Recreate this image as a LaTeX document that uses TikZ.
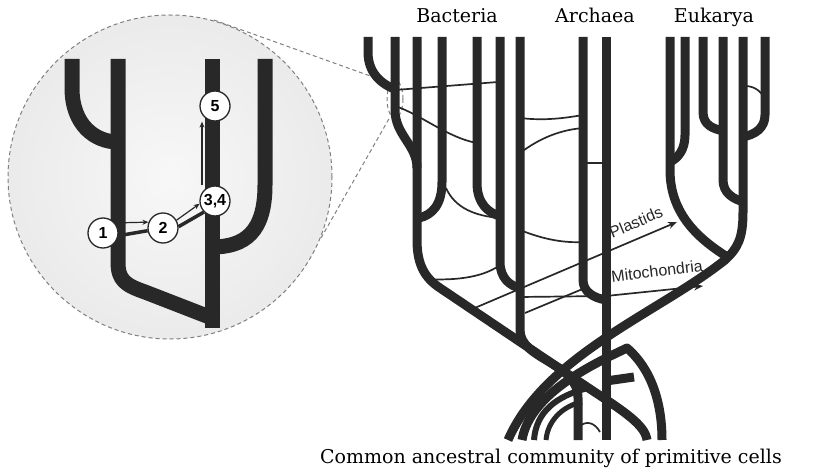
\documentclass[tikz,border=0pt]{standalone}
\usepackage{fontspec}
\setmainfont{DejaVu Serif}
\newfontfamily\lsans{Liberation Sans}
\usetikzlibrary{arrows.meta}
\definecolor{ink}{RGB}{40,40,40}
\begin{document}
\begin{tikzpicture}[x=1pt,y=-1pt,
  br/.style={draw=ink,line width=9pt,line join=round},
  thinl/.style={draw=ink,line width=1.7pt},
  ibr/.style={draw=ink,line width=15pt,line join=round},
  num/.style={circle,draw=ink,line width=1.3pt,fill=white,minimum size=30pt,inner sep=0pt,font=\lsans\bfseries\fontsize{16}{16}\selectfont},
  lab/.style={font=\fontsize{19}{20}\selectfont,text=black,anchor=base,inner sep=0pt},
  arrlab/.style={font=\lsans\fontsize{16}{17}\selectfont,text=ink,inner sep=0pt},
  tipbig/.style={-{Stealth[length=9pt,width=7pt]}},
  tipsmall/.style={-{Stealth[length=6pt,width=5pt]}},
  dashl/.style={draw=black!50,line width=1pt,dash pattern=on 4pt off 3pt}
]
\useasboundingbox[fill=white] (0,0) rectangle (819,470);

% ---------- inset ----------
\shade[inner color=black!3, outer color=black!8] (170,177) circle[radius=162pt];
\draw[dashl] (170,177) circle[radius=162pt];
\coordinate (ta) at (214,20);
\coordinate (tb) at (321,238);
\coordinate (sa) at (387,82);
\coordinate (sb) at (390,117);
\draw[dashl] (ta) -- (sa);
\draw[dashl] (tb) -- (sb);
\draw[dashl] (395,99) ellipse[x radius=8pt,y radius=19pt];

\draw[ibr] (72,59) -- (72,88) .. controls (72,125) and (95,142) .. (118,142);
\draw[ibr] (118,59) -- (118,262) .. controls (118,280) and (125,285) .. (145,292) -- (212,318);
\draw[ibr] (212,59) -- (212,328);
\draw[ibr] (265,59) -- (265,185) .. controls (265,232) and (245,247) .. (212,247);

\node[num] (n1) at (103,233) {1};
\node[num] (n2) at (163,228) {2};
\node[num] (n34) at (215,201) {3,4};
\node[num] (n5) at (215,106) {5};

\draw[ink,line width=1.2pt,tipsmall] (n1.40) -- (n2.158);
\draw[ink,line width=3.5pt] (n1.-10) -- (n2.190);
\draw[ink,line width=1.2pt,tipsmall] (n2.30) -- (n34.190);
\draw[ink,line width=3.5pt] (n2.5) -- (n34.225);
\draw[ink,line width=1.2pt,tipsmall] ([xshift=-13pt]n34.north) -- ([xshift=-13pt]n34.north |- n5.south);

% ---------- thin transfer lines ----------
\draw[thinl] (395,90) -- (498,82);
\draw[thinl] (395,106) .. controls (420,114) and (448,138) .. (477,143);
\draw[thinl] (446,188) .. controls (455,208) and (475,216) .. (500,218);
\draw[thinl] (520,118) .. controls (545,121) and (565,118) .. (583,115);
\draw[thinl] (520,153) .. controls (540,138) and (560,130) .. (583,128);
\draw[thinl] (583,163) -- (606,163);
\draw[thinl] (520,230) .. controls (545,240) and (565,243) .. (583,242);
\draw[thinl] (426,279) .. controls (460,281) and (485,276) .. (500,265);
\draw[thinl] (525,313) -- (585,288);
\draw[thinl,tipbig] (520,297) -- (606,296) -- (703,286);
\draw[thinl,tipbig] (470,310) -- (677,222);
\draw[thinl] (745,86) .. controls (754,86) and (761,91) .. (764,98);
\draw[thinl] (578,428) .. controls (586,419) and (595,423) .. (600,432);

% ---------- Bacteria ----------
\draw[br] (368,37) -- (368,52) .. controls (368,72) and (380,84) .. (397,90);
\draw[br] (395,37) -- (395,110) .. controls (395,135) and (417,145) .. (417,168);
\draw[br] (442,37) -- (442,182) .. controls (442,205) and (432,215) .. (419,218);
\draw[br] (477,37) -- (477,183) .. controls (477,203) and (488,213) .. (500,216);
\draw[br] (500,37) -- (500,262) .. controls (500,278) and (510,286) .. (520,288);
\draw[br] (417,37) -- (417,240) .. controls (417,265) and (425,278) .. (440,288) -- (587,387) .. controls (625,412) and (645,425) .. (647,440);
\draw[br] (520,37) -- (520,330) .. controls (520,360) and (578,362) .. (578,398) -- (578,440);

% ---------- Archaea ----------
\draw[br] (583,37) -- (583,280) .. controls (583,292) and (594,298) .. (606,300);
\draw[br] (606,37) -- (606,440);

% ---------- Eukarya ----------
\draw[br] (670,37) -- (670,170) .. controls (670,215) and (700,240) .. (729,258);
\draw[br] (685,37) -- (685,135) .. controls (685,150) and (678,158) .. (670,162);
\draw[br] (703,37) -- (703,112) .. controls (703,125) and (713,129) .. (724,131);
\draw[br] (723,37) -- (723,180) .. controls (723,193) and (733,199) .. (744,202);
\draw[br] (765,37) -- (765,115) .. controls (765,128) and (755,135) .. (742,137);
\draw[br] (743,37) -- (743,212) .. controls (743,238) and (738,248) .. (725,260) .. controls (660,312) and (545,355) .. (508,440);

% ---------- root tangle ----------
\draw[br] (522,440) .. controls (530,392) and (598,362) .. (627,348) .. controls (650,368) and (662,400) .. (662,440);
\draw[br] (606,381) -- (634,377);
\draw[br,line width=6pt] (534,440) .. controls (536,412) and (556,396) .. (588,388);
\draw[br,line width=5pt] (546,440) .. controls (548,418) and (566,405) .. (582,402);

% ---------- labels ----------
\node[arrlab,rotate=23] (pl) at (636,222) {Plastids};
\node[arrlab,rotate=7] (mi) at (657,271) {Mitochondria};
\node[lab] (bac) at (457,23) {Bacteria};
\node[lab] (arc) at (595,23) {Archaea};
\node[lab] (euk) at (714,23) {Eukarya};
\node[lab] (cac) at (551,463) {Common ancestral community of primitive cells};
\end{tikzpicture}
\end{document}
